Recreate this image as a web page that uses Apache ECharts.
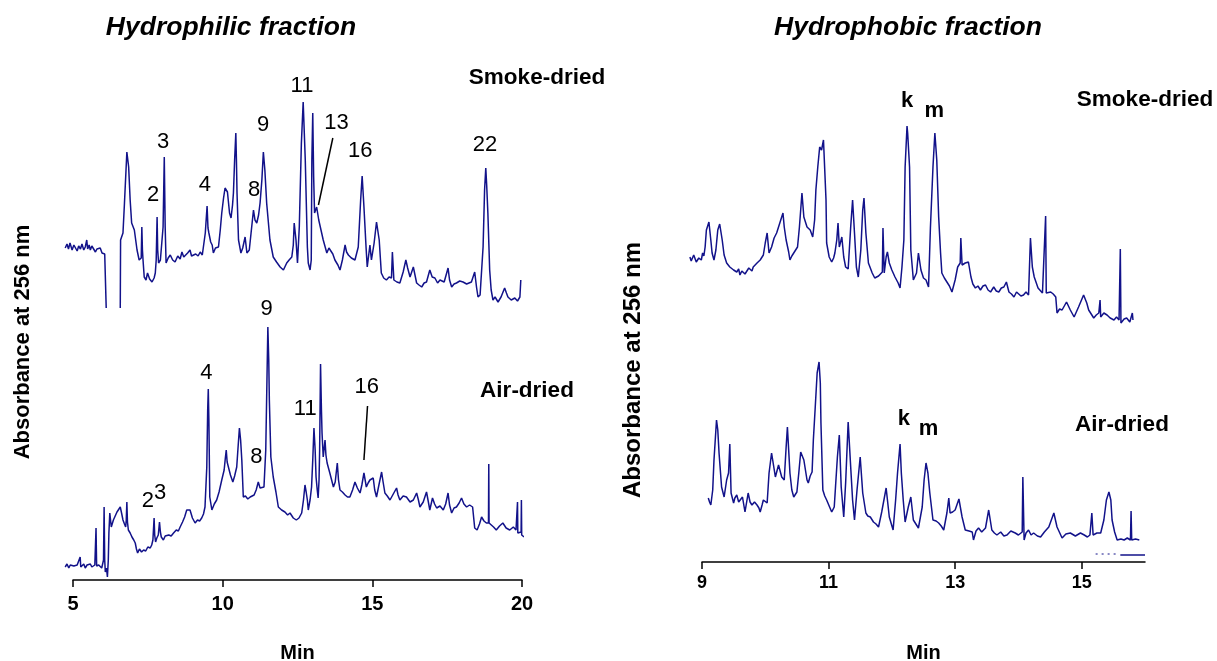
<!DOCTYPE html>
<html>
<head>
<meta charset="utf-8">
<title>Hydrophilic / hydrophobic fractions</title>
<script src="https://cdn.jsdelivr.net/npm/echarts@6/dist/echarts.min.js"></script>
<style>
  html, body { margin: 0; padding: 0; background: #fff; }
  #chart { width: 1217px; height: 661px; }
</style>
</head>
<body>
<div id="chart"></div>
<script>
// retention time (min), relative absorbance at 256 nm (a.u.)
// hydrophilic fraction, smoke-dried
const leftSmoke = [
  [4.74,332],[4.80,336],[4.85,331],[4.90,337],[4.97,330],[5.03,335],[5.08,333],[5.14,329],[5.19,334],[5.25,331],
  [5.30,336],[5.36,330],[5.41,333],[5.46,340],[5.49,331],[5.54,335],[5.58,330],[5.63,334],[5.69,332],[5.75,328],
  [5.80,331],[5.86,329],[5.91,332],[5.97,327],[6.02,329],[6.06,326],[6.10,328],[6.11,272],[6.3,'-'],[6.58,272],
  [6.59,340],[6.67,347],[6.72,377],[6.80,428],[6.86,413],[6.91,380],[6.96,357],[7.05,350],[7.14,330],[7.21,320],
  [7.28,322],[7.30,353],[7.32,330],[7.34,320],[7.38,303],[7.44,300],[7.49,307],[7.56,301],[7.64,298],[7.71,302],
  [7.75,307],[7.78,320],[7.81,363],[7.83,330],[7.86,317],[7.92,320],[7.97,322],[8.01,353],[8.05,423],[8.08,353],
  [8.11,317],[8.18,322],[8.25,325],[8.33,320],[8.41,318],[8.50,324],[8.58,321],[8.64,328],[8.70,323],[8.75,322],
  [8.83,327],[8.91,330],[8.96,324],[9.02,322],[9.10,326],[9.18,324],[9.25,328],[9.32,325],[9.36,327],[9.42,347],
  [9.48,374],[9.51,352],[9.54,347],[9.60,338],[9.65,335],[9.69,327],[9.76,332],[9.86,333],[9.92,350],[9.97,367],
  [10.03,382],[10.08,392],[10.16,388],[10.23,367],[10.28,362],[10.33,375],[10.36,387],[10.40,420],[10.44,447],[10.46,420],
  [10.48,387],[10.53,340],[10.61,327],[10.67,332],[10.75,343],[10.81,327],[10.89,330],[10.97,353],[11.03,370],[11.08,360],
  [11.14,357],[11.20,365],[11.25,377],[11.31,400],[11.36,428],[11.41,410],[11.47,377],[11.58,340],[11.69,323],[11.80,318],
  [11.92,313],[12.03,310],[12.14,317],[12.22,320],[12.31,323],[12.36,335],[12.39,357],[12.45,340],[12.50,317],[12.56,353],
  [12.63,437],[12.69,478],[12.76,420],[12.83,333],[12.86,317],[12.92,310],[12.96,320],[12.98,420],[13.01,467],[13.04,403],
  [13.07,367],[13.14,373],[13.21,360],[13.27,362],[13.36,340],[13.48,327],[13.55,332],[13.61,333],[13.68,326],[13.75,320],
  [13.85,315],[13.92,310],[14.00,320],[14.09,335],[14.14,328],[14.20,325],[14.30,322],[14.42,320],[14.53,333],[14.61,380],
  [14.66,404],[14.72,373],[14.79,333],[14.83,313],[14.92,335],[14.97,320],[15.06,337],[15.14,358],[15.23,340],[15.30,307],
  [15.38,302],[15.47,300],[15.56,303],[15.64,302],[15.67,328],[15.72,300],[15.82,298],[15.92,297],[16.03,308],[16.12,320],
  [16.18,312],[16.26,303],[16.37,313],[16.48,297],[16.56,295],[16.65,293],[16.73,297],[16.81,298],[16.92,310],[17.00,303],
  [17.09,302],[17.18,297],[17.26,300],[17.40,298],[17.53,312],[17.58,300],[17.65,293],[17.73,296],[17.81,297],[17.92,299],
  [18.03,298],[18.15,296],[18.31,298],[18.42,308],[18.48,293],[18.53,283],[18.60,285],[18.65,287],[18.70,333],[18.75,390],
  [18.79,412],[18.82,395],[18.86,367],[18.92,310],[18.97,290],[19.03,280],[19.10,283],[19.20,278],[19.30,283],[19.42,292],
  [19.48,287],[19.53,283],[19.64,280],[19.76,282],[19.85,279],[19.93,283],[19.96,300]
];
// hydrophilic fraction, air-dried
const leftAir = [
  [4.74,13],[4.80,16],[4.86,12],[4.91,15],[4.97,13],[5.03,14],[5.08,12],[5.14,15],[5.20,13],[5.24,23],
  [5.26,13],[5.30,13],[5.36,16],[5.41,12],[5.47,15],[5.53,13],[5.58,16],[5.63,13],[5.68,14],[5.73,15],
  [5.75,14],[5.77,52],[5.79,14],[5.80,13],[5.86,15],[5.91,14],[5.96,12],[6.00,13],[6.02,20],[6.04,73],
  [6.06,20],[6.08,8],[6.12,12],[6.15,3],[6.18,20],[6.20,47],[6.23,67],[6.28,53],[6.35,60],[6.41,64],
  [6.47,68],[6.53,70],[6.58,73],[6.63,66],[6.67,60],[6.72,56],[6.76,53],[6.78,60],[6.80,78],[6.82,58],
  [6.85,50],[6.91,47],[6.97,43],[7.03,40],[7.08,37],[7.12,31],[7.16,27],[7.22,31],[7.29,28],[7.36,30],
  [7.43,29],[7.50,33],[7.58,32],[7.63,35],[7.67,40],[7.71,62],[7.73,45],[7.76,38],[7.80,42],[7.85,45],
  [7.89,58],[7.92,48],[7.95,43],[8.02,40],[8.08,44],[8.14,42],[8.20,45],[8.28,44],[8.36,47],[8.45,50],
  [8.52,49],[8.58,53],[8.66,58],[8.73,63],[8.80,70],[8.86,68],[8.91,70],[8.99,62],[9.04,60],[9.08,57],
  [9.16,60],[9.23,59],[9.30,62],[9.36,66],[9.41,73],[9.47,113],[9.50,170],[9.52,191],[9.54,160],[9.57,83],
  [9.64,70],[9.72,76],[9.80,80],[9.88,88],[9.97,100],[10.05,110],[10.09,122],[10.12,130],[10.15,118],[10.19,117],
  [10.26,105],[10.34,98],[10.40,104],[10.47,113],[10.52,135],[10.56,152],[10.60,140],[10.64,120],[10.69,83],[10.76,84],
  [10.84,81],[10.92,83],[10.98,82],[11.05,85],[11.12,90],[11.19,98],[11.25,92],[11.31,93],[11.38,93],[11.44,130],
  [11.48,200],[11.51,253],[11.54,220],[11.56,180],[11.61,123],[11.69,103],[11.78,88],[11.86,73],[11.97,70],[12.08,68],
  [12.17,65],[12.25,67],[12.36,62],[12.46,60],[12.55,62],[12.64,67],[12.70,80],[12.75,95],[12.79,88],[12.83,80],
  [12.86,70],[12.92,80],[12.97,93],[13.01,120],[13.05,152],[13.09,130],[13.12,103],[13.16,90],[13.19,82],[13.22,100],
  [13.24,130],[13.27,216],[13.30,170],[13.32,147],[13.36,123],[13.42,140],[13.45,125],[13.49,117],[13.58,107],[13.64,100],
  [13.70,93],[13.76,98],[13.83,117],[13.87,100],[13.92,90],[14.00,88],[14.09,85],[14.17,83],[14.25,83],[14.34,90],
  [14.42,98],[14.50,92],[14.59,87],[14.65,95],[14.72,107],[14.76,100],[14.80,93],[14.86,97],[14.92,100],[14.97,98],
  [15.03,102],[15.08,90],[15.14,83],[15.22,95],[15.31,108],[15.36,98],[15.42,87],[15.50,84],[15.59,80],[15.70,86],
  [15.81,92],[15.86,85],[15.92,80],[16.03,84],[16.14,83],[16.20,85],[16.26,78],[16.37,80],[16.48,87],[16.54,80],
  [16.59,73],[16.70,78],[16.81,88],[16.86,80],[16.92,70],[17.01,82],[17.08,76],[17.15,72],[17.26,74],[17.37,70],
  [17.45,76],[17.53,87],[17.58,75],[17.65,67],[17.73,72],[17.81,73],[17.90,77],[17.98,82],[18.06,76],[18.15,73],
  [18.25,75],[18.35,73],[18.42,52],[18.50,50],[18.58,56],[18.65,63],[18.73,59],[18.81,57],[18.88,57],[18.89,116],
  [18.90,57],[18.96,55],[19.05,53],[19.14,50],[19.25,54],[19.36,57],[19.47,52],[19.59,50],[19.71,53],[19.80,50],
  [19.84,50],[19.85,78],[19.86,47],[19.90,48],[19.97,48],[19.98,80],[19.99,45],[20.07,43]
];
// hydrophobic fraction, smoke-dried
const rightSmoke = [
  [8.81,305],[8.83,301],[8.85,302],[8.87,307],[8.89,305],[8.91,300],[8.93,299],[8.95,304],[8.97,305],[8.99,302],
  [9.01,309],[9.03,306],[9.05,315],[9.07,332],[9.11,340],[9.14,322],[9.16,309],[9.19,302],[9.22,312],[9.25,332],
  [9.28,338],[9.32,322],[9.35,307],[9.39,299],[9.44,295],[9.47,297],[9.50,292],[9.53,294],[9.55,290],[9.58,293],
  [9.60,287],[9.63,291],[9.65,292],[9.68,288],[9.71,289],[9.74,294],[9.76,293],[9.79,291],[9.81,295],[9.84,297],
  [9.87,299],[9.90,298],[9.92,302],[9.95,304],[9.97,307],[10.00,319],[10.03,329],[10.06,309],[10.10,315],[10.14,324],
  [10.18,329],[10.23,339],[10.28,349],[10.30,335],[10.33,322],[10.37,310],[10.39,302],[10.42,306],[10.45,309],[10.48,312],
  [10.51,315],[10.54,335],[10.58,369],[10.61,345],[10.66,335],[10.71,332],[10.75,325],[10.78,342],[10.80,372],[10.83,395],
  [10.86,415],[10.89,412],[10.92,422],[10.94,423],[10.96,362],[10.97,319],[11.01,305],[11.05,300],[11.08,304],[11.10,309],
  [11.13,322],[11.15,339],[11.17,315],[11.21,325],[11.24,305],[11.27,295],[11.31,293],[11.35,335],[11.38,362],[11.41,329],
  [11.44,295],[11.47,285],[11.51,312],[11.54,352],[11.56,364],[11.59,329],[11.63,299],[11.69,289],[11.73,284],[11.76,282],
  [11.79,286],[11.82,287],[11.85,290],[11.86,334],[11.88,289],[11.91,305],[11.93,310],[11.96,299],[12.00,292],[12.05,285],
  [12.10,279],[12.13,274],[12.16,295],[12.19,322],[12.21,395],[12.24,436],[12.25,429],[12.28,395],[12.30,312],[12.34,282],
  [12.39,289],[12.42,309],[12.46,292],[12.50,284],[12.54,282],[12.58,275],[12.61,335],[12.65,395],[12.68,429],[12.71,402],
  [12.74,345],[12.77,309],[12.79,289],[12.83,284],[12.87,280],[12.91,276],[12.95,270],[13.00,282],[13.04,295],[13.08,299],
  [13.09,324],[13.11,297],[13.16,299],[13.21,300],[13.25,285],[13.28,278],[13.32,274],[13.36,276],[13.40,272],[13.44,276],
  [13.48,277],[13.52,272],[13.56,270],[13.61,275],[13.65,271],[13.69,270],[13.73,274],[13.77,275],[13.81,280],[13.85,270],
  [13.89,268],[13.93,265],[13.97,270],[14.00,270],[14.04,266],[14.08,267],[14.12,270],[14.16,267],[14.19,324],[14.22,295],
  [14.25,285],[14.31,274],[14.38,269],[14.41,270],[14.43,346],[14.44,269],[14.51,270],[14.55,268],[14.59,265],[14.61,249],
  [14.65,253],[14.69,252],[14.76,260],[14.82,252],[14.88,245],[14.95,255],[15.03,267],[15.08,259],[15.11,252],[15.15,248],
  [15.19,244],[15.23,247],[15.27,249],[15.29,262],[15.30,245],[15.35,249],[15.40,247],[15.45,244],[15.51,242],[15.55,245],
  [15.59,242],[15.61,313],[15.62,239],[15.67,243],[15.71,244],[15.76,240],[15.80,249],[15.81,242]
];
// hydrophobic fraction, air-dried
const rightAir = [
  [9.10,64],[9.12,60],[9.14,57],[9.17,72],[9.19,102],[9.23,142],[9.25,132],[9.27,109],[9.31,75],[9.35,65],
  [9.39,82],[9.42,89],[9.44,118],[9.46,69],[9.50,59],[9.52,64],[9.55,67],[9.58,60],[9.60,62],[9.64,65],
  [9.68,50],[9.73,69],[9.76,60],[9.79,57],[9.83,60],[9.87,57],[9.90,54],[9.92,50],[9.95,57],[9.97,62],
  [10.03,59],[10.06,89],[10.10,109],[10.16,85],[10.21,97],[10.26,85],[10.30,82],[10.33,115],[10.35,135],[10.37,112],
  [10.39,89],[10.42,72],[10.45,65],[10.50,70],[10.53,89],[10.56,110],[10.61,102],[10.66,82],[10.68,79],[10.71,86],
  [10.74,90],[10.76,122],[10.79,155],[10.82,189],[10.85,200],[10.87,179],[10.88,139],[10.91,72],[10.94,66],[10.97,62],
  [11.01,56],[11.05,50],[11.09,55],[11.11,75],[11.14,105],[11.17,127],[11.20,75],[11.24,45],[11.27,79],[11.31,140],
  [11.35,95],[11.38,62],[11.41,42],[11.45,72],[11.50,105],[11.54,69],[11.59,49],[11.62,46],[11.66,45],[11.71,40],
  [11.75,38],[11.79,35],[11.84,50],[11.91,74],[11.96,45],[12.02,32],[12.06,62],[12.09,89],[12.13,118],[12.15,89],
  [12.18,62],[12.21,40],[12.26,55],[12.30,65],[12.34,42],[12.38,38],[12.42,34],[12.48,55],[12.51,82],[12.54,99],
  [12.57,89],[12.60,69],[12.65,42],[12.70,41],[12.74,39],[12.78,36],[12.82,32],[12.87,49],[12.90,64],[12.92,49],
  [12.96,50],[13.00,52],[13.06,63],[13.11,45],[13.16,32],[13.22,31],[13.27,30],[13.29,22],[13.33,31],[13.37,34],
  [13.42,30],[13.48,34],[13.53,52],[13.58,32],[13.62,29],[13.66,27],[13.72,30],[13.77,26],[13.82,27],[13.88,31],
  [13.95,29],[14.00,27],[14.06,30],[14.07,85],[14.09,22],[14.12,29],[14.16,32],[14.20,27],[14.24,29],[14.30,26],
  [14.35,25],[14.41,30],[14.48,35],[14.56,49],[14.61,35],[14.69,24],[14.75,28],[14.82,29],[14.90,26],[14.98,29],
  [15.04,27],[15.09,25],[15.13,27],[15.16,49],[15.18,27],[15.24,29],[15.30,29],[15.35,42],[15.39,62],[15.43,70],
  [15.46,62],[15.48,42],[15.52,30],[15.56,22],[15.62,23],[15.67,22],[15.72,24],[15.77,22],[15.78,51],[15.79,22],
  [15.85,23],[15.91,22]
];
// faint baseline trace under the air-dried chromatogram
const rightBaseDotted = [[15.22,8],[15.58,8]];
const rightBaseSolid = [[15.61,7],[16.0,7]];

// peak numbers [time, absorbance, label]
const leftSmokeLabels = [
  [7.68,385,'2'],[8.01,438,'3'],[9.41,395,'4'],[11.05,390,'8'],[11.35,455,'9'],
  [12.65,494,'11'],[13.80,457,'13'],[14.60,429,'16'],[18.76,435,'22']
];
const leftAirLabels = [
  [7.50,79,'2'],[7.91,87,'3'],[9.46,207,'4'],[11.13,123,'8'],[11.47,271,'9'],
  [12.76,171,'11'],[14.81,193,'16']
];
const rightSmokeLabels = [[12.24,461,'k'],[12.67,451,'m']];
const rightAirLabels = [[12.19,143,'k'],[12.58,133,'m']];
const leader13 = [[13.68,442],[13.20,375]];
const leader16 = [[14.84,174],[14.72,120]];

const leftTicks = [5, 10, 15, 20];
const rightTicks = [9, 11, 13, 15];

const FONT = '"Liberation Sans", Arial, Helvetica, sans-serif';
const TRACE = '#12128a';

function trace(name, data, gi) {
  return {
    name: name, type: 'line', xAxisIndex: gi, yAxisIndex: gi,
    data: data, showSymbol: false, connectNulls: false,
    lineStyle: { color: TRACE, width: 1.5 }, z: 3
  };
}
function peakLabels(data, gi, bold) {
  return {
    type: 'scatter', xAxisIndex: gi, yAxisIndex: gi, data: data,
    symbolSize: 0, silent: true, z: 5, itemStyle: { opacity: 1 },
    label: {
      show: true, position: 'inside', color: '#000', opacity: 1,
      fontFamily: FONT, fontSize: 22, fontWeight: bold ? 'bold' : 'normal',
      formatter: p => p.value[2]
    }
  };
}
function leader(data, gi) {
  return {
    type: 'line', xAxisIndex: gi, yAxisIndex: gi, data: data,
    showSymbol: false, silent: true, lineStyle: { color: '#000', width: 1.5 }, z: 4
  };
}
function text(str, x, y, font, rotation) {
  return {
    type: 'text', x: x, y: y, silent: true, rotation: rotation || 0,
    style: {
      text: str, fill: '#000', font: font + ' ' + FONT,
      textAlign: 'center', textVerticalAlign: 'middle'
    }
  };
}
const axisName = { color: '#000', fontFamily: FONT, fontSize: 20, fontWeight: 'bold' };

const chart = echarts.init(document.getElementById('chart'), null, { renderer: 'canvas' });
chart.setOption({
  animation: false,
  backgroundColor: '#ffffff',
  grid: [
    { left: 64, right: 695, top: 60, bottom: 81, outerBoundsMode: 'none' },   // hydrophilic traces (from 4.7 min)
    { left: 73, right: 695, top: 60, bottom: 81, outerBoundsMode: 'none' },   // hydrophilic time axis
    { left: 689.3, right: 72, top: 60, bottom: 99, outerBoundsMode: 'none' }, // hydrophobic traces (from 8.8 min)
    { left: 702, right: 72, top: 60, bottom: 99, outerBoundsMode: 'none' }    // hydrophobic time axis
  ],
  xAxis: [
    { gridIndex: 0, type: 'value', min: 4.7, max: 20, show: false },
    {
      gridIndex: 1, type: 'value', min: 5, max: 20,
      axisLine: { lineStyle: { color: '#000', width: 1.5 } },
      axisTick: { length: 7, customValues: leftTicks, lineStyle: { color: '#000', width: 1.5 } },
      axisLabel: { customValues: leftTicks, color: '#000', fontFamily: FONT, fontSize: 20, fontWeight: 'bold', margin: 14 },
      splitLine: { show: false },
      name: 'Min', nameLocation: 'middle', nameGap: 63, nameTextStyle: axisName
    },
    { gridIndex: 2, type: 'value', min: 8.8, max: 16, show: false },
    {
      gridIndex: 3, type: 'value', min: 9, max: 16,
      axisLine: { lineStyle: { color: '#000', width: 1.5 } },
      axisTick: { length: 7, customValues: rightTicks, lineStyle: { color: '#000', width: 1.5 } },
      axisLabel: { customValues: rightTicks, color: '#000', fontFamily: FONT, fontSize: 18, fontWeight: 'bold', margin: 12 },
      splitLine: { show: false },
      name: 'Min', nameLocation: 'middle', nameGap: 81, nameTextStyle: axisName
    }
  ],
  yAxis: [
    { gridIndex: 0, type: 'value', min: 0, max: 520, show: false },
    { gridIndex: 1, type: 'value', min: 0, max: 520, show: false },
    { gridIndex: 2, type: 'value', min: 0, max: 502, show: false },
    { gridIndex: 3, type: 'value', min: 0, max: 502, show: false }
  ],
  series: [
    trace('Hydrophilic smoke-dried', leftSmoke, 0),
    trace('Hydrophilic air-dried', leftAir, 0),
    trace('Hydrophobic smoke-dried', rightSmoke, 2),
    trace('Hydrophobic air-dried', rightAir, 2),
    {
      type: 'line', xAxisIndex: 2, yAxisIndex: 2, data: rightBaseDotted, showSymbol: false,
      lineStyle: { color: TRACE, width: 1, type: [2, 4] }
    },
    {
      type: 'line', xAxisIndex: 2, yAxisIndex: 2, data: rightBaseSolid, showSymbol: false,
      lineStyle: { color: TRACE, width: 1.5 }
    },
    peakLabels(leftSmokeLabels, 0, false),
    peakLabels(leftAirLabels, 0, false),
    peakLabels(rightSmokeLabels, 2, true),
    peakLabels(rightAirLabels, 2, true),
    leader(leader13, 0),
    leader(leader16, 0)
  ],
  graphic: [
    text('Hydrophilic fraction', 231, 28, 'italic bold 26.5px'),
    text('Hydrophobic fraction', 908, 28, 'italic bold 26.5px'),
    text('Smoke-dried', 537, 78, 'bold 22.5px'),
    text('Air-dried', 527, 391, 'bold 22.5px'),
    text('Smoke-dried', 1145, 100, 'bold 22.5px'),
    text('Air-dried', 1122, 425, 'bold 22.5px'),
    text('Absorbance at 256 nm', 23, 342, 'bold 22px', Math.PI / 2),
    text('Absorbance at 256 nm', 633, 370, 'bold 24px', Math.PI / 2)
  ]
});
</script>
</body>
</html>
